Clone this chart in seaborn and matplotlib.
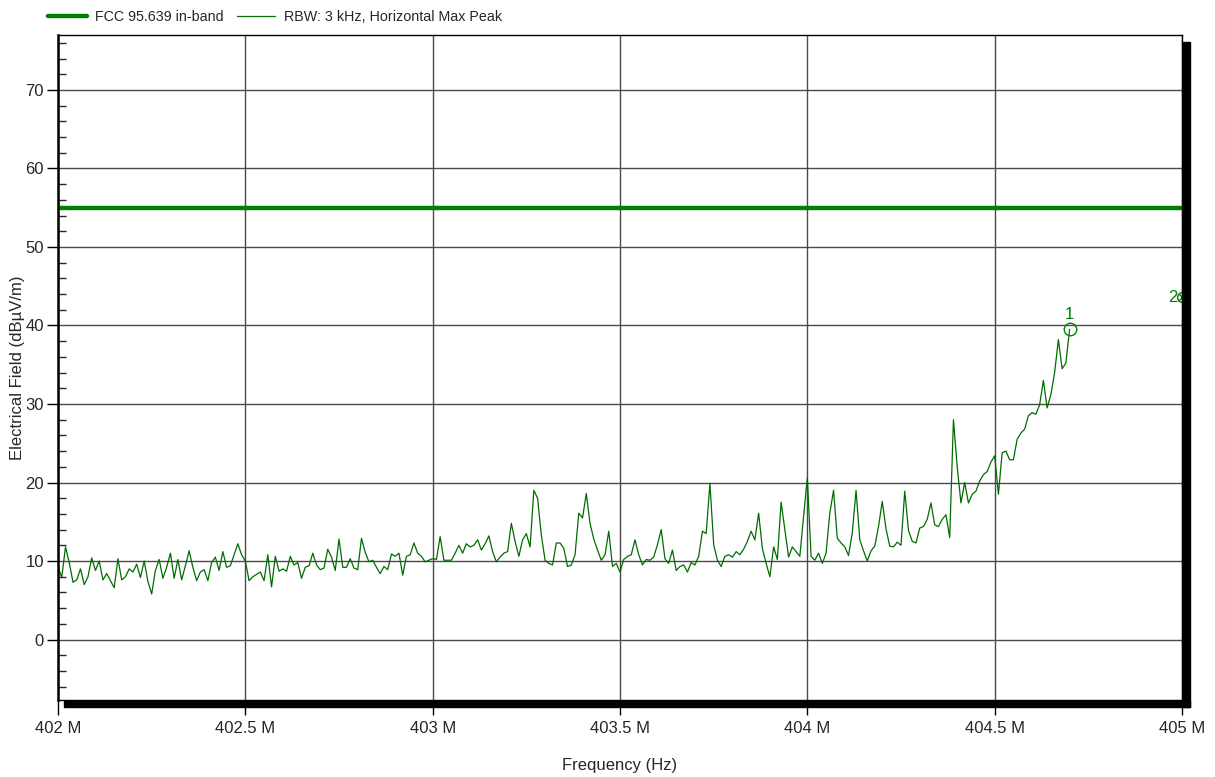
import numpy as np
import pandas as pd
import matplotlib
matplotlib.use("Agg")
import matplotlib.pyplot as plt
import seaborn as sns
from matplotlib.patches import Rectangle
from matplotlib.ticker import MultipleLocator, FuncFormatter

# trace, one value every 10 kHz from 402.00 MHz to 404.70 MHz
level = [
    9.3, 7.9, 11.8, 9.8, 7.3, 7.6, 9.0, 7.0, 8.0, 10.4,
    8.8, 10.0, 7.6, 8.4, 7.5, 6.6, 10.3, 7.6, 8.0, 9.0,
    8.6, 9.6, 7.9, 10.0, 7.4, 5.8, 8.8, 10.2, 7.8, 9.2,
    11.0, 7.8, 10.2, 7.6, 9.4, 11.3, 9.2, 7.5, 8.6, 8.9,
    7.5, 9.8, 10.5, 8.8, 11.2, 9.2, 9.4, 10.8, 12.2, 10.8,
    10.0, 7.5, 8.0, 8.3, 8.6, 7.5, 10.8, 6.7, 10.6, 8.7,
    9.0, 8.7, 10.6, 9.5, 9.8, 7.8, 9.2, 9.4, 11.0, 9.5,
    8.9, 9.1, 11.5, 10.5, 8.8, 12.8, 9.2, 9.2, 10.3, 9.1,
    8.9, 12.9, 11.1, 9.9, 10.1, 9.2, 8.4, 9.3, 8.9, 10.9,
    10.6, 11.0, 8.2, 10.6, 10.8, 12.3, 11.0, 10.6, 9.9, 10.1,
    10.3, 10.2, 13.1, 10.1, 10.1, 10.1, 11.0, 12.0, 11.0, 12.2,
    11.8, 12.0, 12.7, 11.4, 12.2, 13.2, 11.2, 9.9, 10.5, 11.0,
    11.2, 14.8, 12.5, 10.6, 12.7, 13.5, 11.8, 19.0, 18.0, 13.3,
    10.1, 9.7, 9.5, 12.3, 12.3, 11.6, 9.3, 9.5, 10.8, 16.1,
    15.5, 18.6, 14.8, 12.8, 11.4, 10.1, 10.8, 13.8, 9.3, 9.7,
    8.6, 10.2, 10.6, 10.8, 12.7, 10.8, 9.5, 10.2, 10.1, 10.5,
    12.1, 14.0, 10.3, 9.7, 11.4, 8.8, 9.3, 9.5, 8.6, 9.8,
    9.5, 10.6, 13.8, 13.5, 19.9, 12.1, 10.1, 9.3, 10.6, 10.8,
    10.5, 11.2, 10.8, 11.5, 12.5, 13.8, 12.7, 16.1, 11.6, 9.7,
    8.0, 11.8, 10.2, 17.5, 14.0, 10.5, 11.8, 11.2, 10.6, 15.7,
    20.6, 10.6, 10.1, 11.0, 9.7, 11.0, 16.1, 19.0, 12.9, 12.3,
    11.8, 10.7, 13.6, 19.0, 12.7, 11.3, 10.0, 11.3, 11.9, 14.4,
    17.6, 14.1, 11.9, 11.8, 12.4, 12.0, 18.9, 13.9, 12.5, 12.3,
    14.2, 14.4, 15.3, 17.4, 14.6, 14.4, 15.3, 15.9, 13.0, 28.0,
    22.0, 17.4, 20.0, 17.4, 18.5, 18.9, 20.2, 21.0, 21.4, 22.6,
    23.4, 18.5, 23.8, 24.0, 22.9, 22.9, 25.5, 26.3, 26.8, 28.5,
    28.9, 28.7, 29.9, 33.0, 29.5, 31.2, 34.0, 38.2, 34.5, 35.2,
    39.5,
]
freq = np.round(np.arange(len(level)) * 0.01 + 402.0, 2) * 1e6

limit_freq = [402.0e6, 405.0e6]
limit_level = [55.0, 55.0]

marker_freq = [404.7e6, 405.0e6]
marker_level = [39.5, 43.6]
marker_names = ["1", "2"]

trace = pd.DataFrame({"freq": freq, "level": level})
limit = pd.DataFrame({"freq": limit_freq, "level": limit_level})

sns.set_style("white")
plt.rcParams["font.family"] = ["Liberation Sans", "DejaVu Sans"]

fig = plt.figure(figsize=(12.15, 7.77), dpi=100)
ax = fig.add_axes([58 / 1215, 1 - 700 / 777, (1182 - 58) / 1215, (700 - 35) / 777])

sns.lineplot(data=limit, x="freq", y="level", ax=ax, color="#008000", lw=3.2,
             label="FCC 95.639 in-band")
sns.lineplot(data=trace, x="freq", y="level", ax=ax, color="#006c00", lw=0.9,
             label="RBW: 3 kHz, Horizontal Max Peak")

# markers
ax.plot(marker_freq[0], marker_level[0], marker="o", ms=9, mfc="none", mec="#008000", mew=1)
ax.annotate(marker_names[0], (marker_freq[0], marker_level[0]), xytext=(0, 5),
            textcoords="offset points", ha="center", va="bottom", color="#008000", fontsize=12)
ax.plot(marker_freq[1], marker_level[1], marker="o", ms=7, mfc="none", mec="#008000", mew=1, clip_on=False)
ax.plot(marker_freq[1], marker_level[1], marker="x", ms=5, color="#008000", mew=1, clip_on=False)
ax.annotate(marker_names[1], (marker_freq[1], marker_level[1]), xytext=(-3, 0),
            textcoords="offset points", ha="right", va="center", color="#008000", fontsize=12)

ax.set_xlim(402.0e6, 405.0e6)
ax.set_ylim(-7.7, 77)
ax.xaxis.set_major_locator(MultipleLocator(0.5e6))
ax.xaxis.set_major_formatter(FuncFormatter(lambda v, p: f"{v / 1e6:g} M"))
ax.yaxis.set_major_locator(MultipleLocator(10))
ax.yaxis.set_minor_locator(MultipleLocator(2))

ax.grid(True, which="major", color="#4a4a4a", lw=1.0)
ax.tick_params(axis="both", which="major", direction="out", length=8, width=1,
               labelsize=12, pad=2, left=True, bottom=True, color="black")
ax.tick_params(axis="x", which="major", length=11, pad=4)
ax.tick_params(axis="y", which="minor", direction="in", length=6, width=1, left=True)

for side in ["top", "right", "bottom"]:
    ax.spines[side].set_color("black")
    ax.spines[side].set_linewidth(1)
ax.spines["left"].set_color("black")
ax.spines["left"].set_linewidth(1.8)

ax.set_xlabel("Frequency (Hz)", fontsize=12, labelpad=16)
ax.set_ylabel("Electrical Field (dBµV/m)", fontsize=12)
ax.yaxis.set_label_coords((25 - 58) / 1124, 0.5)

ax.get_legend().remove()
handles, labels = ax.get_legend_handles_labels()
fig.legend(handles, labels, loc="center left", bbox_to_anchor=(48 / 1215, 1 - 17 / 777),
           ncol=2, frameon=False, fontsize=10.3, handlelength=2.7, handletextpad=0.6,
           columnspacing=0.9, borderpad=0, borderaxespad=0)

# drop shadow along bottom and right edges
fig.patches.append(Rectangle((64 / 1215, 1 - 707 / 777), (1190 - 64) / 1215, 6 / 777,
                             transform=fig.transFigure, color="black", zorder=10))
fig.patches.append(Rectangle((1183 / 1215, 1 - 707 / 777), 7 / 1215, (707 - 42) / 777,
                             transform=fig.transFigure, color="black", zorder=10))

plt.savefig("out.png", dpi=100)
